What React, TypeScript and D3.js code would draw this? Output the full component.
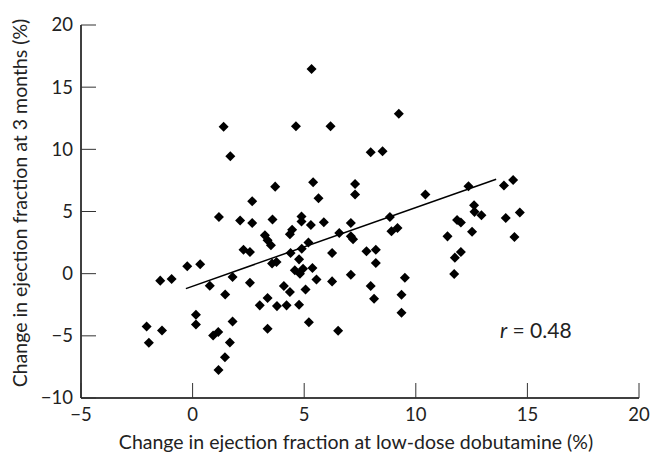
import React, { useEffect, useRef } from 'react';
import * as d3 from 'd3';

// Change at low-dose dobutamine (%) vs change at 3 months (%)
const doseChange: number[] = [
  5.33, 4.63, 6.18, 9.24, 1.39, 1.69, 7.98, 8.51, 3.7, 5.4,
  5.64, 7.28, 7.28, 2.67, 10.43, 12.36, 13.95, 14.36, 12.61, 12.63,
  12.94, 14.66, 11.85, 12.02, 14.03, 11.42, 12.52, 14.42, 12.02, 11.75,
  11.72, 9.51, 9.36, 9.36, 9.18, 8.91, 8.84, 3.58, 4.88, 4.88,
  5.3, 5.88, 7.09, 4.46, 4.36, 5.19, 4.89, 6.57, 7.09, 7.19,
  4.39, 4.77, 6.25, 7.79, 8.21, 8.21, 3.56, 3.76, 4.58, 4.81,
  4.95, 5.37, 5.55, 6.25, 7.09, 4.09, 4.36, 5.06, 7.98, 8.13,
  3.78, 4.21, 4.77, 5.21, 6.52, 1.18, 2.13, 2.67, 3.24, 3.36,
  3.51, 2.28, 2.57, -0.24, 0.34, -1.45, -0.94, 0.77, 1.79, 2.57,
  1.46, 3.36, 3.01, 0.15, 0.15, 1.79, 3.36, -2.06, -1.37, -1.96,
  0.92, 1.15, 1.67, 1.45, 1.16,
];

const monthChange: number[] = [
  16.46, 11.86, 11.86, 12.86, 11.81, 9.45, 9.77, 9.85, 7.0, 7.36,
  6.07, 7.22, 6.37, 5.83, 6.37, 7.03, 7.09, 7.54, 5.5, 4.97,
  4.7, 4.92, 4.32, 4.11, 4.48, 3.0, 3.38, 2.95, 1.74, 1.29,
  -0.03, -0.32, -1.69, -3.14, 3.68, 3.41, 4.56, 4.35, 4.6, 4.2,
  3.92, 4.13, 4.08, 3.54, 3.17, 2.5, 2.01, 3.27, 3.0, 2.76,
  1.66, 1.15, 1.66, 1.8, 1.93, 0.85, 0.81, 0.93, 0.27, 0.0,
  0.4, 0.45, -0.46, -0.62, -0.08, -1.0, -1.48, -1.27, -1.0, -2.02,
  -2.61, -2.55, -2.5, -3.9, -4.6, 4.55, 4.27, 4.08, 3.08, 2.68,
  2.28, 1.93, 1.74, 0.59, 0.75, -0.56, -0.43, -0.97, -0.27, -0.73,
  -1.67, -1.96, -2.55, -3.3, -4.09, -3.84, -4.43, -4.25, -4.57, -5.56,
  -4.97, -4.7, -5.53, -6.72, -7.74,
];

// regression line end points
const fitX: number[] = [-0.3, 13.6];
const fitY: number[] = [-1.2, 7.6];

const xTicks: number[] = [-5, 0, 5, 10, 15, 20];
const yTicks: number[] = [-10, -5, 0, 5, 10, 15, 20];

const fmt = (v: number) => (v < 0 ? '\u2212' + Math.abs(v) : String(v));

const App: React.FC = () => {
  const svgRef = useRef<SVGSVGElement>(null);
  const width = 652;
  const height = 455;

  useEffect(() => {
    if (!svgRef.current) return;
    const svg = d3.select(svgRef.current);
    svg.selectAll('*').remove();

    const font = 'Lato, "DejaVu Sans", sans-serif';

    const x = d3.scaleLinear().domain([-5, 20]).range([81, 639]);
    const y = d3.scaleLinear().domain([-10, 20]).range([398, 25]);

    // axis lines
    svg.append('line')
      .attr('x1', x(-5)).attr('x2', x(20))
      .attr('y1', y(-10)).attr('y2', y(-10))
      .attr('stroke', '#000').attr('stroke-width', 1.5);
    svg.append('line')
      .attr('x1', x(-5)).attr('x2', x(-5))
      .attr('y1', y(-10)).attr('y2', y(20))
      .attr('stroke', '#000').attr('stroke-width', 1.5);

    // x ticks (inward)
    svg.selectAll('.xtick')
      .data(xTicks)
      .enter()
      .append('line')
      .attr('x1', d => x(d)).attr('x2', d => x(d))
      .attr('y1', y(-10)).attr('y2', y(-10) - 15)
      .attr('stroke', '#333').attr('stroke-width', 1);

    svg.selectAll('.xlabel')
      .data(xTicks)
      .enter()
      .append('text')
      .attr('x', d => x(d))
      .attr('y', y(-10) + 23)
      .attr('text-anchor', 'middle')
      .attr('font-family', font)
      .attr('font-size', 18.5)
      .attr('fill', '#222')
      .text(d => fmt(d));

    // y ticks (inward)
    svg.selectAll('.ytick')
      .data(yTicks)
      .enter()
      .append('line')
      .attr('x1', x(-5)).attr('x2', x(-5) + 15)
      .attr('y1', d => y(d)).attr('y2', d => y(d))
      .attr('stroke', '#333').attr('stroke-width', 1);

    svg.selectAll('.ylabel')
      .data(yTicks)
      .enter()
      .append('text')
      .attr('x', x(-5) - 8)
      .attr('y', d => y(d))
      .attr('dy', '0.35em')
      .attr('text-anchor', 'end')
      .attr('font-family', font)
      .attr('font-size', 18.5)
      .attr('fill', '#222')
      .text(d => fmt(d));

    // points
    const pts = doseChange.map((d, i) => ({ x: d, y: monthChange[i] }));
    const diamond = d3.symbol().type(d3.symbolDiamond2).size(64);
    svg.selectAll('.pt')
      .data(pts)
      .enter()
      .append('path')
      .attr('transform', d => `translate(${x(d.x)},${y(d.y)})`)
      .attr('d', diamond() as string)
      .attr('fill', '#000');

    // regression line
    const line = d3.line<number>()
      .x(d => x(d))
      .y((_, i) => y(fitY[i]));
    svg.append('path')
      .attr('d', line(fitX) as string)
      .attr('fill', 'none')
      .attr('stroke', '#000')
      .attr('stroke-width', 1.5);

    // r annotation
    const rt = svg.append('text')
      .attr('x', 500)
      .attr('y', y(-4.6))
      .attr('dy', '0.35em')
      .attr('font-family', font)
      .attr('font-size', 21)
      .attr('fill', '#222');
    rt.append('tspan').attr('font-style', 'italic').text('r');
    rt.append('tspan').text(' = 0.48');

    // axis titles
    svg.append('text')
      .attr('x', 356)
      .attr('y', 449)
      .attr('text-anchor', 'middle')
      .attr('font-family', font)
      .attr('font-size', 19.5)
      .attr('fill', '#222')
      .text('Change in ejection fraction at low-dose dobutamine (%)');

    svg.append('text')
      .attr('transform', 'translate(27,203) rotate(-90)')
      .attr('text-anchor', 'middle')
      .attr('font-family', font)
      .attr('font-size', 19.5)
      .attr('fill', '#222')
      .text('Change in ejection fraction at 3 months (%)');
  }, []);

  return (
    <svg
      ref={svgRef}
      width={width}
      height={height}
      style={{ position: 'absolute', left: 0, top: 0, background: '#fff' }}
    />
  );
};

export default App;
